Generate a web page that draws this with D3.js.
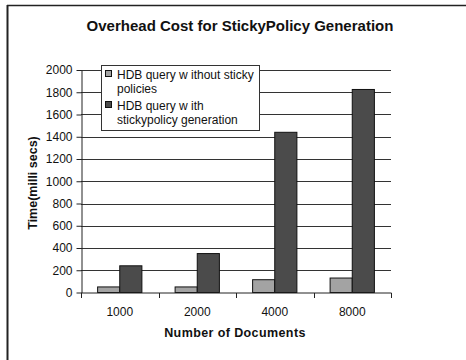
<!DOCTYPE html>
<html>
<head>
<meta charset="utf-8">
<script src="https://cdn.jsdelivr.net/npm/d3@7"></script>
<style>
  html, body { margin: 0; padding: 0; background: #fff; }
  svg { display: block; font-family: "Liberation Sans", Arial, sans-serif; }
</style>
</head>
<body>
<svg id="chart" width="466" height="360"></svg>
<script>
// Document counts on the x axis
const categories = ["1000", "2000", "4000", "8000"];
// Query time in milliseconds
const withoutSticky = [50, 50, 115, 130];
const withSticky = [240, 350, 1440, 1825];
const legendLines = [["HDB query w ithout sticky", "policies"], ["HDB query w ith", "stickypolicy generation"]];
const yTicks = [0, 200, 400, 600, 800, 1000, 1200, 1400, 1600, 1800, 2000];
const colors = ["#a3a3a3", "#4b4b4b"];

const svg = d3.select("#chart");
const margin = { left: 81, right: 391, top: 70, bottom: 292.5 };

// Outer frame (left and top edges)
svg.append("line").attr("x1", 7.5).attr("x2", 7.5).attr("y1", 5).attr("y2", 360)
  .attr("stroke", "#222").attr("stroke-width", 2);
svg.append("line").attr("x1", 7).attr("x2", 466).attr("y1", 5.5).attr("y2", 5.5)
  .attr("stroke", "#222").attr("stroke-width", 1.3);

const x = d3.scaleBand().domain(categories).range([margin.left, margin.right]);
const inner = d3.scaleBand().domain([0, 1]).range([0, x.bandwidth()]).paddingInner(0).paddingOuter(0.75);
const y = d3.scaleLinear().domain([0, 2000]).range([margin.bottom, margin.top]);

// Horizontal gridlines
svg.append("g").selectAll("line").data(yTicks.filter(d => d > 0)).join("line")
  .attr("x1", margin.left).attr("x2", margin.right)
  .attr("y1", d => Math.round(y(d)) + 0.5).attr("y2", d => Math.round(y(d)) + 0.5)
  .attr("stroke", "#333").attr("stroke-width", 1);

// Y axis
const yAxis = svg.append("g").attr("transform", `translate(${margin.left + 0.5},0)`)
  .call(d3.axisLeft(y).tickValues(yTicks).tickFormat(d3.format("d"))
    .tickSize(5).tickPadding(4).tickSizeOuter(0));
yAxis.select(".domain").attr("stroke", "#222");
yAxis.selectAll(".tick line").attr("stroke", "#222");
yAxis.selectAll(".tick text").attr("font-size", 12).attr("fill", "#111")
  .attr("font-family", "Liberation Sans, Arial, sans-serif");

// Bars
const series = [withoutSticky, withSticky];
series.forEach((vals, si) => {
  svg.append("g").selectAll("rect").data(vals).join("rect")
    .attr("x", (d, i) => x(categories[i]) + inner(si))
    .attr("y", d => y(d))
    .attr("width", inner.bandwidth())
    .attr("height", d => y(0) - y(d))
    .attr("fill", colors[si])
    .attr("stroke", "#111").attr("stroke-width", 1);
});

// X axis with ticks at category boundaries
const xAxisG = svg.append("g").attr("transform", `translate(0,${margin.bottom + 0.5})`);
xAxisG.append("line").attr("x1", margin.left).attr("x2", margin.right + 0.5)
  .attr("stroke", "#222");
const bounds = categories.map(c => x(c)).concat([margin.right]);
xAxisG.selectAll("line.tk").data(bounds).join("line").attr("class", "tk")
  .attr("x1", d => Math.round(d) + 0.5).attr("x2", d => Math.round(d) + 0.5)
  .attr("y1", 0).attr("y2", 5).attr("stroke", "#222");
xAxisG.selectAll("text").data(categories).join("text")
  .attr("x", d => x(d) + x.bandwidth() / 2).attr("y", 23)
  .attr("text-anchor", "middle").attr("font-size", 12).attr("fill", "#111")
  .text(d => d);

// Titles
svg.append("text").attr("x", 240).attr("y", 31).attr("text-anchor", "middle")
  .attr("font-size", 15).attr("font-weight", "bold").attr("fill", "#111")
  .text("Overhead Cost for StickyPolicy Generation");
svg.append("text").attr("x", 235).attr("y", 337).attr("text-anchor", "middle")
  .attr("font-size", 12.5).attr("font-weight", "bold").attr("fill", "#111")
  .attr("letter-spacing", 0.4)
  .text("Number of Documents");
svg.append("text").attr("transform", "translate(37,183) rotate(-90)")
  .attr("text-anchor", "middle")
  .attr("font-size", 12.5).attr("font-weight", "bold").attr("fill", "#111")
  .text("Time(milli secs)");

// Legend
const lg = svg.append("g").attr("transform", "translate(101,65)");
lg.append("rect").attr("x", 0.5).attr("y", 0.5).attr("width", 158).attr("height", 65)
  .attr("fill", "#fff").attr("stroke", "#333").attr("stroke-width", 1);
legendLines.forEach((lines, i) => {
  const top = i === 0 ? 6 : 37;
  lg.append("rect").attr("x", 4.5).attr("y", top - 0.5).attr("width", 6).attr("height", 6)
    .attr("fill", colors[i]).attr("stroke", "#111").attr("stroke-width", 1);
  const t = lg.append("text").attr("font-size", 12).attr("fill", "#111");
  lines.forEach((s, j) => {
    t.append("tspan").attr("x", 16).attr("y", top + 7.5 + j * 14.5).text(s);
  });
});
</script>
</body>
</html>
